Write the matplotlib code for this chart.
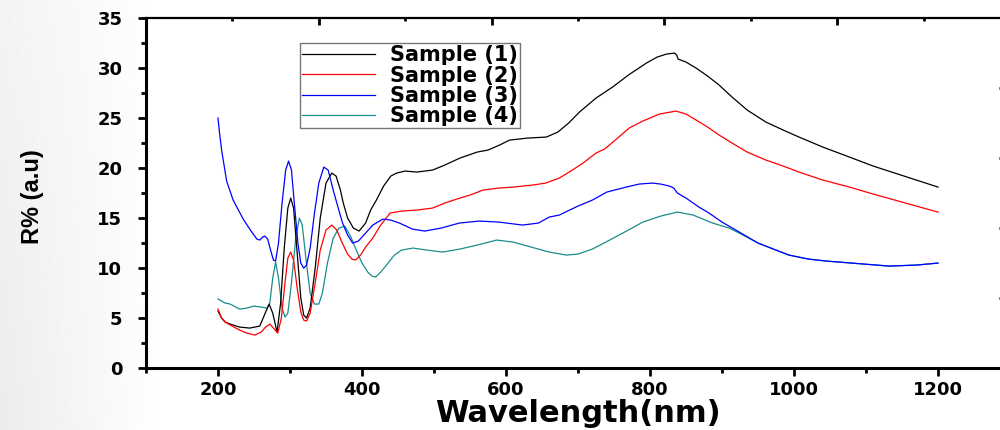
import matplotlib.pyplot as plt
from matplotlib.ticker import MultipleLocator
import numpy as np

# Sample (1) - black
wl_1 = [200, 205, 210, 217, 230, 244, 258, 265, 271, 276, 282, 287, 292, 297, 301, 305, 310, 315, 319,
        323, 328, 335, 342, 350, 358, 364, 370, 374, 380, 388, 396, 405, 412, 420, 430, 440, 448, 460,
        476, 498, 515, 536, 560, 575, 591, 605, 630, 656, 672, 687, 702, 725, 748, 770, 795, 810, 823,
        834, 837, 839, 850, 864, 880, 896, 914, 935, 961, 985, 1007, 1040, 1077, 1110, 1140, 1170, 1200]
r_1 = [5.7, 5.0, 4.6, 4.4, 4.1, 4.0, 4.2, 5.4, 6.4, 5.5, 3.6, 6.5, 12.0, 16.0, 17.0, 16.0, 11.5, 7.0, 5.3,
       5.0, 6.0, 10.0, 15.0, 18.5, 19.5, 19.2, 17.8, 16.5, 15.0, 14.0, 13.7, 14.5, 15.8, 16.8, 18.2, 19.2,
       19.5, 19.7, 19.6, 19.8, 20.3, 21.0, 21.6, 21.8, 22.3, 22.8, 23.0, 23.1, 23.6, 24.5, 25.6, 27.0, 28.1,
       29.3, 30.5, 31.1, 31.4, 31.5, 31.3, 30.9, 30.6, 30.0, 29.2, 28.3, 27.1, 25.8, 24.6, 23.8, 23.1, 22.1,
       21.1, 20.2, 19.5, 18.8, 18.1]

# Sample (2) - red
wl_2 = [200, 205, 210, 217, 230, 240, 251, 260, 266, 272, 277, 283, 288, 293, 297, 301, 305, 310, 315,
        319, 323, 328, 335, 342, 350, 358, 365, 372, 380, 386, 391, 398, 405, 415, 425, 439, 455, 476,
        498, 515, 536, 550, 568, 590, 610, 637, 655, 674, 690, 707, 725, 737, 755, 771, 790, 813, 836,
        850, 864, 880, 896, 914, 935, 961, 985, 1007, 1040, 1077, 1110, 1140, 1170, 1200]
r_2 = [5.9, 5.0, 4.6, 4.3, 3.8, 3.5, 3.3, 3.6, 4.1, 4.4, 4.0, 3.5, 5.0, 8.5, 11.0, 11.6, 10.8, 8.0, 5.6,
       4.8, 4.7, 5.5, 8.5, 11.8, 13.8, 14.3, 13.8, 12.6, 11.4, 10.9, 10.8, 11.3, 12.1, 13.0, 14.2, 15.5,
       15.7, 15.8, 16.0, 16.5, 17.0, 17.3, 17.8, 18.0, 18.1, 18.3, 18.5, 19.0, 19.7, 20.5, 21.5, 21.9,
       23.0, 24.0, 24.7, 25.4, 25.7, 25.4, 24.8, 24.1, 23.3, 22.5, 21.6, 20.8, 20.2, 19.6, 18.8, 18.1,
       17.4, 16.8, 16.2, 15.6]

# Sample (3) - blue
wl_3 = [200, 202, 205, 212, 221, 235, 245, 254, 258, 262, 265, 269, 273, 277, 280, 284, 289, 294, 298,
        302, 306, 311, 315, 319, 323, 328, 334, 340, 347, 353, 360, 367, 373, 380, 387, 395, 405, 415,
        429, 440, 452, 470, 487, 510, 535, 563, 590, 623, 645, 660, 674, 700, 720, 740, 767, 785, 803,
        815, 827, 833, 838, 850, 868, 882, 900, 924, 950, 975, 993, 1020, 1045, 1080, 1132, 1170, 1200]
r_3 = [25.0, 23.6, 21.8, 18.7, 16.8, 14.9, 13.8, 12.9, 12.8, 13.1, 13.2, 12.9, 11.8, 10.8, 10.7, 12.5,
       16.5, 19.8, 20.7, 19.8, 16.5, 12.5, 10.5, 10.0, 10.3, 12.0, 15.5, 18.5, 20.1, 19.8, 17.8, 16.0,
       14.5, 13.3, 12.5, 12.7, 13.5, 14.3, 14.9, 14.8, 14.5, 13.9, 13.7, 14.0, 14.5, 14.7, 14.6, 14.3,
       14.5, 15.1, 15.3, 16.2, 16.8, 17.6, 18.1, 18.4, 18.5, 18.4, 18.2, 18.0, 17.5, 17.0, 16.1, 15.5,
       14.6, 13.6, 12.5, 11.8, 11.3, 10.9, 10.7, 10.5, 10.2, 10.3, 10.5]

# Sample (4) - teal
wl_4 = [200, 210, 217, 230, 240, 250, 260, 268, 272, 276, 280, 284, 289, 293, 297, 302, 308, 313, 317,
        322, 328, 334, 340, 345, 352, 360, 368, 376, 384, 392, 400, 408, 414, 419, 426, 434, 445, 455,
        471, 490, 512, 536, 560, 587, 610, 640, 660, 684, 700, 720, 744, 770, 790, 815, 838, 860, 887,
        910, 924, 950, 975, 993, 1020, 1045, 1080, 1132, 1170, 1200]
r_4 = [6.9, 6.5, 6.4, 5.9, 6.0, 6.2, 6.1, 6.0, 6.5, 9.0, 10.6, 9.0, 6.0, 5.1, 5.5, 8.5, 13.0, 15.0, 14.3,
       11.0, 7.5, 6.4, 6.4, 7.5, 10.5, 13.0, 14.0, 14.2, 13.2, 11.8, 10.5, 9.6, 9.2, 9.1, 9.6, 10.3, 11.3,
       11.8, 12.0, 11.8, 11.6, 11.9, 12.3, 12.8, 12.6, 12.0, 11.6, 11.3, 11.4, 11.9, 12.8, 13.8, 14.6, 15.2,
       15.6, 15.3, 14.5, 14.0, 13.5, 12.5, 11.8, 11.3, 10.9, 10.7, 10.5, 10.2, 10.3, 10.5]

labels = ["Sample (1)", "Sample (2)", "Sample (3)", "Sample (4)"]
colors = ["black", "red", "blue", "#1a8c8c"]

fig = plt.figure(figsize=(10, 4.3), dpi=100)

# light grey slide background on the left edge
bg = fig.add_axes([0, 0, 1, 1], zorder=-10)
xx, yy = np.meshgrid(np.linspace(0, 1, 400), np.linspace(0, 1, 200))
shade = 1 - 0.075 * np.clip(1 - xx / 0.16, 0, 1) * (0.6 + 0.4 * yy)
bg.imshow(shade, cmap="gray", vmin=0, vmax=1, aspect="auto", extent=[0, 1, 0, 1])
bg.axis("off")

ax = fig.add_axes([0.146, 0.144, 0.864, 0.814])
ax.set_facecolor("none")

# teal first so blue sits on top where they overlap
ax.plot(wl_4, r_4, color=colors[3], lw=0.9, zorder=2)
ax.plot(wl_1, r_1, color=colors[0], lw=0.9, zorder=3)
ax.plot(wl_2, r_2, color=colors[1], lw=0.9, zorder=3)
ax.plot(wl_3, r_3, color=colors[2], lw=0.9, zorder=4)

ax.set_xlim(100, 1300)
ax.set_ylim(0, 35)
ax.xaxis.set_major_locator(MultipleLocator(200))
ax.xaxis.set_minor_locator(MultipleLocator(100))
ax.yaxis.set_major_locator(MultipleLocator(5))
ax.yaxis.set_minor_locator(MultipleLocator(2.5))

ax.spines["left"].set_linewidth(2.2)
ax.spines["bottom"].set_linewidth(2.2)
ax.spines["top"].set_linewidth(1.6)
ax.spines["right"].set_visible(False)
ax.tick_params(axis="both", which="major", direction="out", length=6, width=2,
               top=False, right=False)
ax.tick_params(axis="x", which="major", pad=3)
ax.tick_params(axis="y", which="major", pad=11)
ax.tick_params(axis="both", which="minor", direction="out", length=3.5, width=2,
               top=False, right=False)
for lab in ax.get_xticklabels() + ax.get_yticklabels():
    lab.set_fontsize(13)
    lab.set_fontweight("bold")

ax.set_xlabel("Wavelength(nm)", fontsize=22, fontweight="bold", va="center")
ax.xaxis.set_label_coords(0.5, -0.13)
ax.set_ylabel("R% (a.u)", fontsize=17, fontweight="bold",
              family=["Liberation Sans", "DejaVu Sans"], va="center")
ax.yaxis.set_label_coords(-0.131, 0.49)

# top / right ticks of the original frame
ax2 = fig.add_axes(ax.get_position(), frameon=False)
ax2.set_xlim(0, 1)
ax2.set_ylim(0, 1)
ax2.xaxis.tick_top()
ax2.yaxis.tick_right()
ax2.xaxis.set_major_locator(MultipleLocator(0.2))
ax2.xaxis.set_minor_locator(MultipleLocator(0.1))
ax2.set_yticks([0.2, 0.4, 0.6, 0.8])
ax2.tick_params(which="major", direction="in", length=5, width=2,
                labeltop=False, labelright=False)
ax2.tick_params(axis="y", which="major", length=8)
ax2.tick_params(which="minor", direction="in", length=2.5, width=2)
ax2.set_facecolor("none")

handles = [plt.Line2D([], [], color=c, lw=0.9) for c in colors]
leg = ax.legend(handles, labels, loc="upper left", bbox_to_anchor=(0.300, 0.900),
                bbox_transform=fig.transFigure, fancybox=False, framealpha=1,
                edgecolor="#777777", borderaxespad=0, handlelength=3.5,
                handletextpad=0.7, labelspacing=0.02, borderpad=0.1,
                prop={"weight": "bold", "size": 15})
leg.get_frame().set_linewidth(1.0)

fig.savefig("out.png", dpi=100)
